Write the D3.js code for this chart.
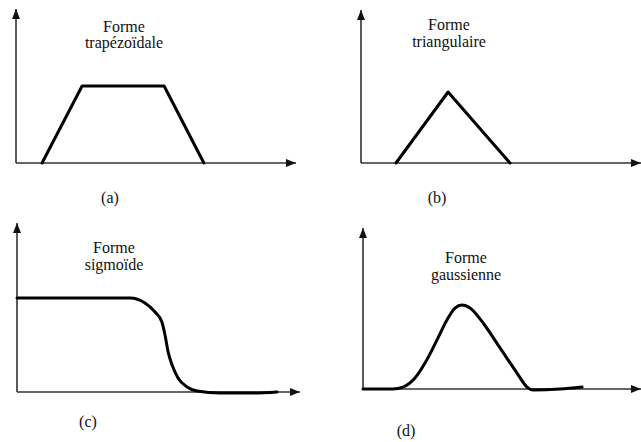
<!DOCTYPE html>
<html>
<head>
<meta charset="utf-8">
<script src="https://cdn.jsdelivr.net/npm/d3@7"></script>
<style>
  html, body { margin: 0; padding: 0; background: #fff; }
  svg { display: block; }
  svg text { font-family: 'Liberation Serif', 'DejaVu Serif', 'Noto Serif', serif; }
</style>
</head>
<body>
<script>
// ---- Data (domain units: x 0..100, y 0..100 per panel) ----
const panelIds = ["a", "b", "c", "d"];
const panelLabels = ["(a)", "(b)", "(c)", "(d)"];
const titleLine1 = ["Forme", "Forme", "Forme", "Forme"];
const titleLine2 = ["trapézoïdale", "triangulaire", "sigmoïde", "gaussienne"];

const trapezeX = [9.3, 23.6, 52.9, 67.1];
const trapezeY = [0, 50, 50, 0];

const triangleX = [12.5, 31.1, 53.2];
const triangleY = [0, 46.4, 0];

const sigmoidX = [0, 39.9, 45.2, 48.8, 51.2, 52.3, 53.4, 54.8, 56.9, 60.1, 63.6, 71.7, 83.4, 91.9];
const sigmoidY = [55.6, 55.6, 52.7, 47.3, 41.4, 33.7, 23.7, 16.0, 8.3, 3.0, 0.6, -0.6, -0.6, 0];

const gaussX = [0, 10.8, 14.4, 18.7, 22.3, 26.6, 30.2, 33.1, 35.6, 38.5, 43.2, 49.3, 55.4, 59.0, 61.2, 70.9, 78.8];
const gaussY = [0, 0, 1.2, 6.8, 16.1, 30.4, 42.9, 50.3, 52.2, 50.3, 41.0, 25.5, 9.9, 1.2, -0.6, 0, 1.2];

// ---- Layout (pixel frames of each panel) ----
const W = 641, H = 442;
const frames = {
  a: { x0: 16,  x1: 296, y0: 163, y1: 9,   t: [124, 32, 48],  l: [110, 203], smooth: false },
  b: { x0: 361, x1: 641, y0: 163, y1: 10,  t: [449, 30, 47],  l: [437, 203], smooth: false },
  c: { x0: 17,  x1: 300, y0: 392, y1: 223, t: [114, 253, 270], l: [88, 427], smooth: true },
  d: { x0: 363, x1: 641, y0: 389, y1: 228, t: [466, 263, 280], l: [406, 436], smooth: true }
};
const seriesX = { a: trapezeX, b: triangleX, c: sigmoidX, d: gaussX };
const seriesY = { a: trapezeY, b: triangleY, c: sigmoidY, d: gaussY };

const svg = d3.select("body").append("svg").attr("width", W).attr("height", H);

const defs = svg.append("defs");
defs.append("marker")
  .attr("id", "arrow")
  .attr("viewBox", "0 0 10 8")
  .attr("refX", 10).attr("refY", 4)
  .attr("markerUnits", "userSpaceOnUse")
  .attr("markerWidth", 10).attr("markerHeight", 8)
  .attr("orient", "auto")
  .append("path").attr("d", "M0,0 L10,4 L0,8 Z").attr("fill", "#111");

panelIds.forEach((id, i) => {
  const f = frames[id];
  const x = d3.scaleLinear().domain([0, 100]).range([f.x0, f.x1]);
  const y = d3.scaleLinear().domain([0, 100]).range([f.y0, f.y1]);
  const g = svg.append("g").attr("class", "panel-" + id);

  // axes with arrowheads
  g.append("line")
    .attr("x1", x(0)).attr("y1", y(0)).attr("x2", x(0)).attr("y2", y(100))
    .attr("stroke", "#333").attr("stroke-width", 1.6)
    .attr("marker-end", "url(#arrow)");
  g.append("line")
    .attr("x1", x(0)).attr("y1", y(0)).attr("x2", x(100)).attr("y2", y(0))
    .attr("stroke", "#333").attr("stroke-width", 1.6)
    .attr("marker-end", "url(#arrow)");

  // curve
  const pts = seriesX[id].map((v, k) => [v, seriesY[id][k]]);
  const line = d3.line()
    .x(d => x(d[0])).y(d => y(d[1]))
    .curve(f.smooth ? d3.curveMonotoneX : d3.curveLinear);
  g.append("path")
    .datum(pts)
    .attr("d", line)
    .attr("fill", "none")
    .attr("stroke", "#000")
    .attr("stroke-width", 3)
    .attr("stroke-linejoin", "round")
    .attr("stroke-linecap", "round");

  // titles and panel label
  const txt = (tx, ty, s) => g.append("text")
    .attr("x", tx).attr("y", ty)
    .attr("text-anchor", "middle")
    .attr("font-size", 16)
    .attr("fill", "#111")
    .text(s);
  txt(f.t[0], f.t[1], titleLine1[i]);
  txt(f.t[0], f.t[2], titleLine2[i]);
  txt(f.l[0], f.l[1], panelLabels[i]);
});
</script>
</body>
</html>
